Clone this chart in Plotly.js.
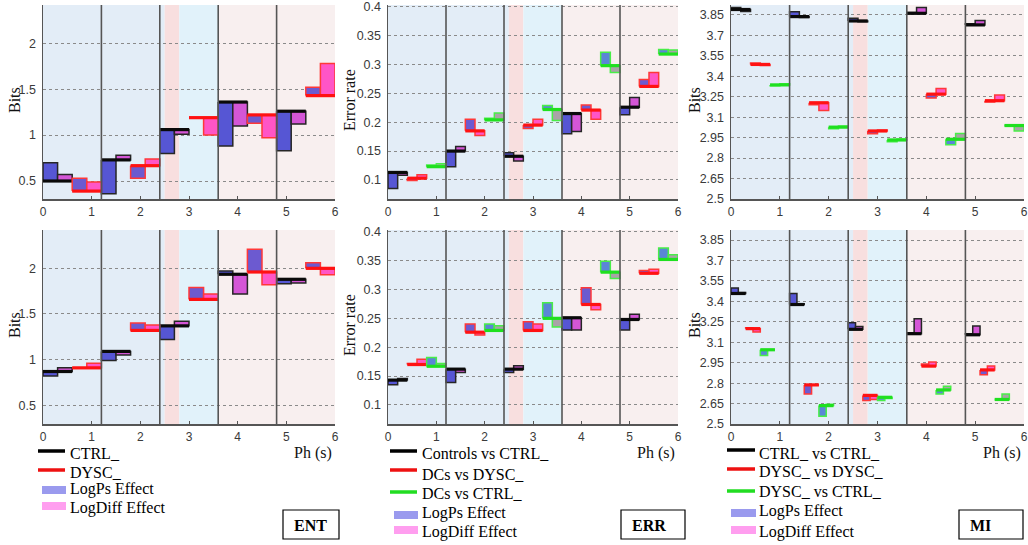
<!DOCTYPE html>
<html><head><meta charset="utf-8">
<script src="https://cdn.plot.ly/plotly-3.0.1.min.js"></script>
<style>html,body{margin:0;padding:0;background:#fff}#chart{width:1028px;height:545px}</style>
</head><body><div id="chart"></div>
<script>
// ---------- shared categories / ticks ----------
const phaseStarts = [0, 1.2, 2.4, 3.6, 4.8];
const xTicks = [0, 1, 2, 3, 4, 5, 6];
const entTicks = [0.5, 1, 1.5, 2];
const errTicks = [0.1, 0.15, 0.2, 0.25, 0.3, 0.35, 0.4];
const miTicks = [2.5, 2.65, 2.8, 2.95, 3.1, 3.25, 3.4, 3.55, 3.7, 3.85];
const bandStarts = [0, 2.5, 2.8, 3.6];
const bandEnds = [2.5, 2.8, 3.6, 6];

// ---------- ENT (top) ----------
const entTop_CTRL_base    = [0.50, 0.73, 1.06, 1.36, 1.26];
const entTop_CTRL_logPs   = [0.70, 0.36, 0.80, 0.88, 0.83];
const entTop_CTRL_logDiff = [0.57, 0.78, 1.01, 1.10, 1.12];
const entTop_DYSC_base    = [0.39, 0.667, 1.19, 1.22, 1.43];
const entTop_DYSC_logPs   = [0.53, 0.53, 1.19, 1.13, 1.52];
const entTop_DYSC_logDiff = [0.49, 0.74, 1.00, 0.97, 1.78];
// ---------- ENT (bottom) ----------
const entBot_CTRL_base    = [0.87, 1.09, 1.37, 1.935, 1.88];
const entBot_CTRL_logPs   = [0.82, 0.99, 1.22, 1.97, 1.83];
const entBot_CTRL_logDiff = [0.91, 1.05, 1.42, 1.72, 1.84];
const entBot_DYSC_base    = [0.91, 1.32, 1.66, 1.96, 2.00];
const entBot_DYSC_logPs   = [0.915, 1.40, 1.79, 2.21, 2.06];
const entBot_DYSC_logDiff = [0.96, 1.38, 1.72, 1.82, 1.93];

// ---------- ERR (top) ----------
const errTop_CTRL_base     = [0.113, 0.150, 0.141, 0.215, 0.226];
const errTop_CTRL_logPs    = [0.085, 0.123, 0.147, 0.180, 0.213];
const errTop_CTRL_logDiff  = [0.108, 0.158, 0.133, 0.184, 0.243];
const errTop_DYSC_base     = [0.103, 0.185, 0.195, 0.221, 0.262];
const errTop_DYSC_logPs    = [0.099, 0.205, 0.189, 0.230, 0.274];
const errTop_DYSC_logDiff  = [0.109, 0.177, 0.205, 0.205, 0.286];
const errTop_DvC_base      = [0.123, 0.204, 0.222, 0.298, 0.318];
const errTop_DvC_logPs     = [0.126, 0.207, 0.229, 0.321, 0.326];
const errTop_DvC_logDiff   = [0.128, 0.216, 0.203, 0.286, 0.325];
// ---------- ERR (bottom) ----------
const errBot_CTRL_base     = [0.143, 0.162, 0.162, 0.251, 0.248];
const errBot_CTRL_logPs    = [0.135, 0.139, 0.156, 0.230, 0.230];
const errBot_CTRL_logDiff  = [0.146, 0.156, 0.168, 0.230, 0.257];
const errBot_DYSC_base     = [0.170, 0.226, 0.229, 0.274, 0.328];
const errBot_DYSC_logPs    = [0.172, 0.240, 0.244, 0.303, 0.333];
const errBot_DYSC_logDiff  = [0.179, 0.221, 0.240, 0.265, 0.335];
const errBot_DvC_base      = [0.167, 0.229, 0.250, 0.330, 0.352];
const errBot_DvC_logPs     = [0.182, 0.240, 0.277, 0.349, 0.372];
const errBot_DvC_logDiff   = [0.172, 0.237, 0.235, 0.319, 0.360];

// ---------- MI (top) ----------
const miTop_CTRL_base      = [3.890, 3.838, 3.806, 3.862, 3.777];
const miTop_CTRL_logPs     = [3.905, 3.874, 3.825, 3.868, 3.785];
const miTop_CTRL_logDiff   = [3.876, 3.832, 3.800, 3.905, 3.810];
const miTop_DYSC_base      = [3.487, 3.206, 2.999, 3.269, 3.221];
const miTop_DYSC_logPs     = [3.497, 3.192, 2.978, 3.240, 3.212];
const miTop_DYSC_logDiff   = [3.480, 3.150, 3.006, 3.310, 3.262];
const miTop_DvC_base       = [3.337, 3.027, 2.933, 2.938, 3.039];
const miTop_DvC_logPs      = [3.330, 3.015, 2.920, 2.898, 3.034];
const miTop_DvC_logDiff    = [3.346, 3.035, 2.941, 2.980, 2.998];
// ---------- MI (bottom) ----------
const miBot_CTRL_base      = [3.458, 3.377, 3.195, 3.163, 3.155];
const miBot_CTRL_logPs     = [3.499, 3.458, 3.244, 3.170, 3.163];
const miBot_CTRL_logDiff   = [3.466, 3.383, 3.215, 3.273, 3.219];
const miBot_DYSC_base      = [3.200, 2.787, 2.710, 2.925, 2.897];
const miBot_DYSC_logPs     = [3.206, 2.720, 2.672, 2.940, 2.861];
const miBot_DYSC_logDiff   = [3.175, 2.792, 2.680, 2.955, 2.925];
const miBot_DvC_base       = [3.045, 2.635, 2.696, 2.750, 2.680];
const miBot_DvC_logPs      = [3.003, 2.556, 2.672, 2.720, 2.684];
const miBot_DvC_logDiff    = [3.050, 2.645, 2.688, 2.777, 2.720];

// ---------- legend texts ----------
const entLegend = ['CTRL_', 'DYSC_'];
const errLegend = ['Controls vs CTRL_', 'DCs vs DYSC_', 'DCs vs CTRL_'];
const miLegend  = ['CTRL_ vs CTRL_', 'DYSC_ vs DYSC_', 'DYSC_ vs CTRL_'];
const effectLegend = ['LogPs Effect', 'LogDiff Effect'];
const panelLabels = ['ENT', 'ERR', 'MI'];

// ---------- styles ----------
const W = 1028, H = 545;
const sty = {
  black: {line:'#0a0a0a', edge:'#262626', ps:'#5656d4', diff:'#d456d6', leg:'#000000'},
  red:   {line:'#ff1212', edge:'#ff3838', ps:'#6c5ad0', diff:'#ff55c6', leg:'#ee1111'},
  green: {line:'#1fe01f', edge:'#48ee48', ps:'#5a86d6', diff:'#a9a3a7', leg:'#22dd22'}
};
const bandColors = ['#e3edf7', '#f8dfdf', '#e1f2fa', '#f8efef'];
const colX = [[43, 335], [388, 678], [731, 1024]];
const titleOffset = [29, 39, 37];
const rowY = [[5, 199], [230, 424]];

const panels = [
  {col:0,row:0,range:[0.304,2.417],ticks:entTicks,title:'Bits',span:0.6,series:[
    ['black',entTop_CTRL_base,entTop_CTRL_logPs,entTop_CTRL_logDiff],
    ['red',entTop_DYSC_base,entTop_DYSC_logPs,entTop_DYSC_logDiff]]},
  {col:1,row:0,range:[0.067,0.403],ticks:errTicks,title:'Error rate',span:0.4,series:[
    ['black',errTop_CTRL_base,errTop_CTRL_logPs,errTop_CTRL_logDiff],
    ['red',errTop_DYSC_base,errTop_DYSC_logPs,errTop_DYSC_logDiff],
    ['green',errTop_DvC_base,errTop_DvC_logPs,errTop_DvC_logDiff]]},
  {col:2,row:0,range:[2.5,3.923],ticks:miTicks,title:'Bits',span:0.4,series:[
    ['black',miTop_CTRL_base,miTop_CTRL_logPs,miTop_CTRL_logDiff],
    ['red',miTop_DYSC_base,miTop_DYSC_logPs,miTop_DYSC_logDiff],
    ['green',miTop_DvC_base,miTop_DvC_logPs,miTop_DvC_logDiff]]},
  {col:0,row:1,range:[0.295,2.42],ticks:entTicks,title:'Bits',span:0.6,series:[
    ['black',entBot_CTRL_base,entBot_CTRL_logPs,entBot_CTRL_logDiff],
    ['red',entBot_DYSC_base,entBot_DYSC_logPs,entBot_DYSC_logDiff]]},
  {col:1,row:1,range:[0.067,0.403],ticks:errTicks,title:'Error rate',span:0.4,series:[
    ['black',errBot_CTRL_base,errBot_CTRL_logPs,errBot_CTRL_logDiff],
    ['red',errBot_DYSC_base,errBot_DYSC_logPs,errBot_DYSC_logDiff],
    ['green',errBot_DvC_base,errBot_DvC_logPs,errBot_DvC_logDiff]]},
  {col:2,row:1,range:[2.5,3.924],ticks:miTicks,title:'Bits',span:0.3,series:[
    ['black',miBot_CTRL_base,miBot_CTRL_logPs,miBot_CTRL_logDiff],
    ['red',miBot_DYSC_base,miBot_DYSC_logPs,miBot_DYSC_logDiff],
    ['green',miBot_DvC_base,miBot_DvC_logPs,miBot_DvC_logDiff]]}
];

const traces = [];
const shapes = [];
const annotations = [];
const layout = {
  width: W, height: H, margin: {l:0, r:0, t:0, b:0},
  paper_bgcolor: '#ffffff', plot_bgcolor: 'rgba(0,0,0,0)',
  showlegend: false, hovermode: false,
  font: {family: 'Liberation Sans, Arial, sans-serif', size: 12, color: '#333'}
};

panels.forEach((p, i) => {
  const n = i + 1;
  const xa = n === 1 ? 'x' : 'x' + n, ya = n === 1 ? 'y' : 'y' + n;
  const xk = n === 1 ? 'xaxis' : 'xaxis' + n, yk = n === 1 ? 'yaxis' : 'yaxis' + n;
  const [px0, px1] = colX[p.col], [py0, py1] = rowY[p.row];
  layout[xk] = {
    domain: [px0 / W, px1 / W], anchor: ya, range: [0, 6], tickvals: xTicks,
    showgrid: false, zeroline: false, showline: true, linecolor: '#555', linewidth: 1.5,
    ticks: 'inside', ticklen: 3, tickcolor: '#555', ticklabelstandoff: 1,
    tickfont: {size: 12, color: '#3a3a3a'}, fixedrange: true
  };
  layout[yk] = {
    domain: [1 - py1 / H, 1 - py0 / H], anchor: xa, range: p.range, tickvals: p.ticks,
    showgrid: true, gridcolor: '#8a8a8a', griddash: 'dot', gridwidth: 1,
    zeroline: false, showline: true, linecolor: '#555', linewidth: 1.5, ticks: '',
    ticklabelstandoff: 3, tickfont: {size: 12.5, color: '#3a3a3a'}, fixedrange: true
  };
  // background bands
  bandStarts.forEach((b, k) => shapes.push({type:'rect', xref:xa, yref:ya + ' domain', x0:b, x1:bandEnds[k], y0:0, y1:1,
    fillcolor:bandColors[k], line:{width:0}, layer:'below'}));
  // phase dividers
  phaseStarts.slice(1).forEach(v => shapes.push({type:'line', xref:xa, yref:ya + ' domain', x0:v, x1:v, y0:0, y1:1,
    line:{color:'#555', width:1.6}, layer:'above'}));
  // y title
  annotations.push({xref:'paper', yref:'paper', x:(px0 - titleOffset[p.col]) / W, y:1 - ((py0 + py1) / 2 - 2) / H,
    text:p.title, textangle:-90, showarrow:false, xanchor:'center', yanchor:'middle',
    font:{family:'Liberation Serif, Times New Roman, serif', size:16, color:'#111'}});
  // marks
  p.series.forEach((s, k) => {
    const [c, base, ps, diff] = s;
    const st = sty[c];
    const psX = [], psY = [], dfX = [], dfY = [], bX = [], bY = [];
    phaseStarts.forEach((w, j) => {
      const x0 = w + k * p.span, xm = x0 + p.span / 2, x1 = x0 + p.span;
      psX.push(x0, xm, xm, x0, x0, null); psY.push(base[j], base[j], ps[j], ps[j], base[j], null);
      dfX.push(xm, x1, x1, xm, xm, null); dfY.push(base[j], base[j], diff[j], diff[j], base[j], null);
      bX.push(x0, x1, null); bY.push(base[j], base[j], null);
    });
    traces.push({type:'scatter', mode:'lines', x:psX, y:psY, xaxis:xa, yaxis:ya, fill:'toself',
      fillcolor:st.ps, line:{color:st.edge, width:1.5}, connectgaps:false});
    traces.push({type:'scatter', mode:'lines', x:dfX, y:dfY, xaxis:xa, yaxis:ya, fill:'toself',
      fillcolor:st.diff, line:{color:st.edge, width:1.5}, connectgaps:false});
    traces.push({type:'scatter', mode:'lines', x:bX, y:bY, xaxis:xa, yaxis:ya,
      line:{color:st.line, width:3.2}, connectgaps:false});
  });
  // "Ph (s)" label under bottom row
  if (p.row === 1) {
    annotations.push({xref:'paper', yref:'paper', x:(px1 - 2) / W, y:1 - 453 / H, text:'Ph (s)', showarrow:false,
      xanchor:'right', yanchor:'middle', borderpad:0,
      font:{family:'Liberation Serif, Times New Roman, serif', size:16, color:'#111'}});
  }
});

// ---------- legends ----------
const serif = {family:'Liberation Serif, Times New Roman, serif', size:16, color:'#000'};
const legendDefs = [
  {lx:[38, 65], tx:69, names:entLegend, colors:['black','red'], rows:[453, 472, 489, 508], lineRows:[451, 470, 490, 506]},
  {lx:[390, 417], tx:421, names:errLegend, colors:['black','red','green'], rows:[453, 474, 493, 513, 532], lineRows:[451, 470, 492, 515, 530]},
  {lx:[727, 755], tx:758, names:miLegend, colors:['black','red','green'], rows:[453, 471, 491, 511, 532], lineRows:[450, 469, 491, 513, 530]}
];
const effectColors = ['#9a9aee', '#ff9eef'];
legendDefs.forEach((L, c) => {
  L.names.forEach((nm, k) => {
    const yy = 1 - L.lineRows[k] / H;
    shapes.push({type:'line', xref:'paper', yref:'paper', x0:L.lx[0] / W, x1:L.lx[1] / W, y0:yy, y1:yy,
      line:{color:sty[L.colors[k]].leg, width:3.5}, layer:'above'});
    annotations.push({xref:'paper', yref:'paper', x:L.tx / W, y:1 - L.rows[k] / H, text:nm, showarrow:false,
      xanchor:'left', yanchor:'middle', borderpad:0, font:serif});
  });
  effectLegend.forEach((nm, e) => {
    const k = L.names.length + e;
    const yc = L.lineRows[k];
    shapes.push({type:'rect', xref:'paper', yref:'paper', x0:(L.lx[0] + 4) / W, x1:(L.lx[1] + 1) / W,
      y0:1 - (yc + 4) / H, y1:1 - (yc - 4) / H, fillcolor:effectColors[e], line:{width:0}, layer:'above'});
    annotations.push({xref:'paper', yref:'paper', x:L.tx / W, y:1 - L.rows[k] / H, text:nm, showarrow:false,
      xanchor:'left', yanchor:'middle', borderpad:0, font:serif});
  });
});
// panel label boxes
const labelBoxes = [[283, 339], [621, 685], [959, 1023]];
panelLabels.forEach((t, c) => {
  const [b0, b1] = labelBoxes[c];
  shapes.push({type:'rect', xref:'paper', yref:'paper', x0:b0 / W, x1:b1 / W, y0:1 - 539 / H, y1:1 - 510 / H,
    line:{color:'#000', width:1.2}, fillcolor:'rgba(0,0,0,0)', layer:'above'});
  annotations.push({xref:'paper', yref:'paper', x:(b0 + 9) / W, y:1 - 525 / H, text:'<b>' + t + '</b>', showarrow:false,
    xanchor:'left', yanchor:'middle', font:{family:'Liberation Serif, Times New Roman, serif', size:16, color:'#000'}});
});

layout.shapes = shapes;
layout.annotations = annotations;
Plotly.newPlot('chart', traces, layout, {staticPlot: true, displayModeBar: false});
</script>
</body></html>
